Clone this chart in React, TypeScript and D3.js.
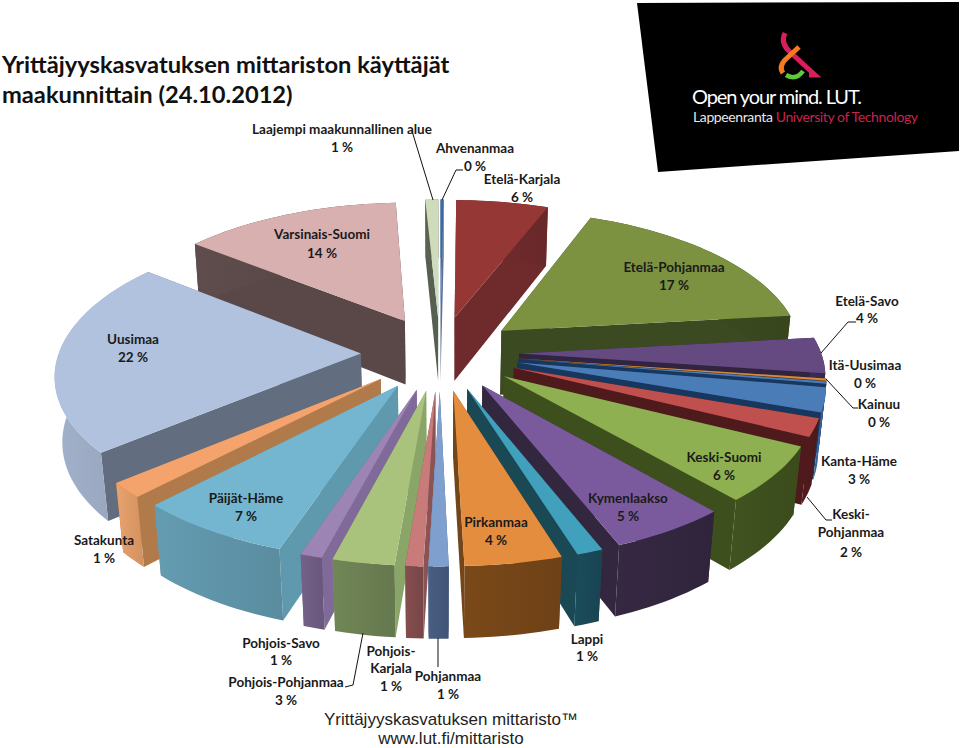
import * as d3 from "d3";

// Slice values, in drawing order (clockwise from 12 o'clock)
const regions = [
  "Ahvenanmaa", "Etelä-Karjala", "Etelä-Pohjanmaa", "Etelä-Savo", "Itä-Uusimaa", "Kainuu", "Kanta-Häme",
  "Keski-Pohjanmaa", "Keski-Suomi", "Kymenlaakso", "Lappi", "Pirkanmaa", "Pohjanmaa", "Pohjois-Karjala",
  "Pohjois-Pohjanmaa", "Pohjois-Savo", "Päijät-Häme", "Satakunta", "Uusimaa", "Varsinais-Suomi",
  "Laajempi maakunnallinen alue",
];
const shares = [0.2, 5.7, 17.3, 4.0, 0.25, 0.25, 2.7, 2.0, 6.2, 5.4, 1.2, 4.4, 0.9, 0.8, 2.8, 1.0, 7.1, 1.7, 21.8, 13.5, 0.8];
const shownPct = [0, 6, 17, 4, 0, 0, 3, 2, 6, 5, 1, 4, 1, 1, 3, 1, 7, 1, 22, 14, 1];

const topColors = [
  "#3d6aa5", "#953735", "#7d9241", "#644a80", "#d8893e", "#4a7cb8", "#4a7cb8", "#c0504d", "#8fb050", "#7a5a9d", "#41a0bc",
  "#e58d3f", "#7f9fcf", "#c97b7a", "#a9c27c", "#9c85b5", "#74b6cf", "#f4a36c", "#b0c2de", "#d9b0b0", "#cfdcbc",
];
const sideColors = [
  "#5a7290", "#6f2a2c", "#3b4a20", "#302440", "#5c3a14", "#17375e", "#17375e", "#4f1a1c", "#3e4f1e", "#33263f", "#1a4855",
  "#744518", "#44597b", "#8a5455", "#8aa568", "#7f6a99", "#5f99ad", "#b17a4a", "#636d80", "#5a4848", "#575f50",
];
const outerColors = [
  "#7b8ea8", "#6f2a2c", "#3b4a20", "#3a2a50", "#5c3a14", "#17375e", "#3a6496", "#4f1a1c", "#3e4f1e", "#33263f", "#1a4855",
  "#744518", "#44597b", "#7e4a4b", "#6b7f52", "#6e5c82", "#5f94a8", "#dd9a66", "#9aa8c0", "#5a4848", "#575f50",
];

const titleLines = ["Yrittäjyyskasvatuksen mittariston käyttäjät", "maakunnittain (24.10.2012)"];
const footerLines = ["Yrittäjyyskasvatuksen mittaristo™", "www.lut.fi/mittaristo"];

// where each label sits: region, line breaks, centre x, baselines
const labelLayout: { region: string; lines?: string[]; x: number; ys: number[] }[] = [
  { region: "Laajempi maakunnallinen alue", x: 342, ys: [134, 152] },
  { region: "Ahvenanmaa", x: 475, ys: [153, 171] },
  { region: "Etelä-Karjala", x: 522, ys: [184, 202] },
  { region: "Varsinais-Suomi", x: 322, ys: [239, 258] },
  { region: "Etelä-Pohjanmaa", x: 674, ys: [272, 290] },
  { region: "Etelä-Savo", x: 867, ys: [306, 323] },
  { region: "Uusimaa", x: 133, ys: [344, 362] },
  { region: "Itä-Uusimaa", x: 865, ys: [370, 388] },
  { region: "Kainuu", x: 879, ys: [409, 427] },
  { region: "Keski-Suomi", x: 724, ys: [462, 480] },
  { region: "Kanta-Häme", x: 859, ys: [466, 484] },
  { region: "Päijät-Häme", x: 246, ys: [503, 521] },
  { region: "Kymenlaakso", x: 628, ys: [503, 521] },
  { region: "Keski-Pohjanmaa", lines: ["Keski-", "Pohjanmaa"], x: 851, ys: [519, 537, 557] },
  { region: "Pirkanmaa", x: 496, ys: [527, 545] },
  { region: "Satakunta", x: 104, ys: [545, 563] },
  { region: "Pohjois-Savo", x: 281, ys: [648, 665] },
  { region: "Pohjois-Karjala", lines: ["Pohjois-", "Karjala"], x: 391, ys: [656, 673, 691] },
  { region: "Pohjois-Pohjanmaa", x: 286, ys: [687, 705] },
  { region: "Pohjanmaa", x: 448, ys: [681, 699] },
  { region: "Lappi", x: 587, ys: [644, 661] },
];

const leaderLines: [number, number][][] = [
  [[412, 131], [433, 200]],
  [[463, 170], [456, 170], [442, 200]],
  [[856, 322], [848, 322], [821, 353]],
  [[858, 408], [853, 408], [826, 379]],
  [[832, 520], [826, 520], [807, 497]],
  [[345, 687], [353, 685], [363, 633]],
  [[438, 638], [438, 667]],
];

// perspective of the pie plane
const cx = 440;
const cy = 353;
const Rx = 302;
const Ry = 141.5;
const persp = 0.13;
const depth = 66;
const explode = 0.262;

const project = (u: number, v: number, z: number): [number, number] => {
  const w = 1 - persp * v + 0.02 * z;
  return [cx + (Rx * u) / w, cy + (Ry * v + depth * z) / w];
};

const path = d3.line<[number, number]>();

const slices = d3
  .pie<number>()
  .sort(null)
  .value((d) => d)(shares)
  .map((s, i) => {
    const mid = (s.startAngle + s.endAngle) / 2;
    const ox = explode * Math.sin(mid);
    const oy = -explode * Math.cos(mid);
    const steps = Math.max(2, Math.ceil((s.endAngle - s.startAngle) / 0.03));
    const angles = d3.range(steps + 1).map((k) => s.startAngle + ((s.endAngle - s.startAngle) * k) / steps);
    const rim = (z: number) => angles.map((a) => project(ox + Math.sin(a), oy - Math.cos(a), z));
    const tip = (z: number) => project(ox, oy, z);
    const topRim = rim(0);
    const botRim = rim(1);
    return {
      i,
      order: -Math.cos(mid),
      top: path([tip(0), ...topRim])! + "Z",
      outer: path([...topRim, ...botRim.slice().reverse()])! + "Z",
      sideA: path([tip(0), topRim[0], botRim[0], tip(1)])! + "Z",
      sideB: path([tip(0), topRim[steps], botRim[steps], tip(1)])! + "Z",
    };
  })
  .sort((a, b) => a.order - b.order);

const labelFont = "Lato, 'Noto Sans', sans-serif";

export default function App() {
  return (
    <svg width={960} height={748} style={{ position: "absolute", left: 0, top: 0, background: "#fff" }}>
      <defs>
        {slices.map((s) => (
          <linearGradient key={s.i} id={`wall${s.i}`} x1="0" x2="1" y1="0" y2="0">
            <stop offset="0" stopColor={d3.color(outerColors[s.i])!.brighter(0.15).formatHex()} />
            <stop offset="1" stopColor={d3.color(outerColors[s.i])!.darker(0.15).formatHex()} />
          </linearGradient>
        ))}
      </defs>

      {/* logo panel */}
      <polygon points="637,3 959,2 959,151 658,172" fill="#000" />
      <g fill="none" strokeLinecap="butt">
        <path d="M785,33 Q780,43 790,52 L815,75 L809,75" stroke="#d81e5b" strokeWidth={5} />
        <path d="M799,47 L787,58 Q778,66 783,73" stroke="#f47b20" strokeWidth={5} />
        <path d="M786,75 Q796,81 803,71" stroke="#5fc93a" strokeWidth={4.5} />
      </g>
      <text x={692} y={104} fontFamily={labelFont} fontSize={20} fill="#fff" textLength={170}>
        Open your mind. LUT.
      </text>
      <text x={693} y={122} fontFamily={labelFont} fontSize={14} fill="#e8e8e8" textLength={225}>
        Lappeenranta <tspan fill="#c8234f">University of Technology</tspan>
      </text>

      {/* title */}
      {titleLines.map((t, i) => (
        <text key={t} x={2} y={73 + i * 29.5} fontFamily={labelFont} fontWeight={700} fontSize={23.7} fill="#111">
          {t}
        </text>
      ))}

      {/* pie, back to front */}
      {slices.map((s) => (
        <g key={s.i}>
          <path d={s.sideA} fill={sideColors[s.i]} />
          <path d={s.sideB} fill={sideColors[s.i]} />
          <path d={s.outer} fill={`url(#wall${s.i})`} />
          <path d={s.top} fill={topColors[s.i]} />
        </g>
      ))}

      {/* leader lines */}
      {leaderLines.map((l, i) => (
        <path key={i} d={path(l)!} fill="none" stroke="#111" strokeWidth={1} />
      ))}

      {/* labels */}
      {labelLayout.map((l) => {
        const idx = regions.indexOf(l.region);
        const lines = [...(l.lines ?? [l.region]), `${shownPct[idx]} %`];
        return lines.map((t, k) => (
          <text
            key={l.region + k}
            x={l.x}
            y={l.ys[k]}
            textAnchor="middle"
            fontFamily={labelFont}
            fontWeight={700}
            fontSize={13.5}
            fill="#1a1a1a"
          >
            {t}
          </text>
        ));
      })}

      {/* footer */}
      {footerLines.map((t, i) => (
        <text
          key={t}
          x={451}
          y={724.5 + i * 19.5}
          textAnchor="middle"
          fontFamily="'Liberation Sans', Arial, sans-serif"
          fontSize={17}
          fill="#222"
        >
          {t}
        </text>
      ))}
    </svg>
  );
}
